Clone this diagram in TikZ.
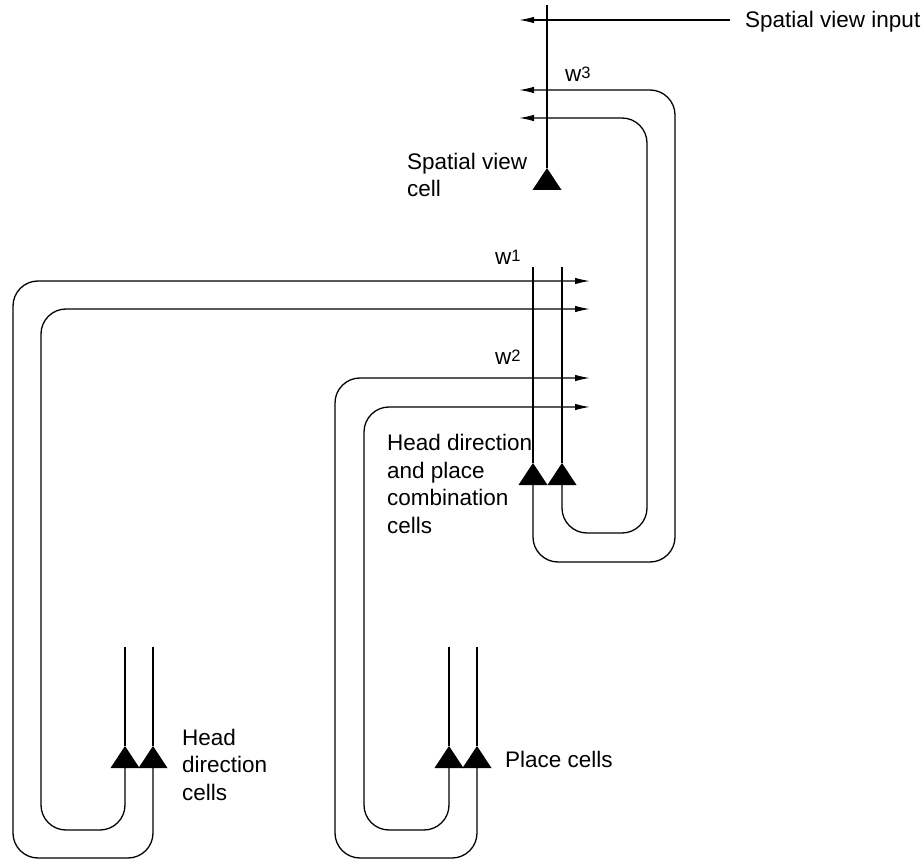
\documentclass[tikz,border=0pt]{standalone}
\usepackage{fontspec}
\setmainfont{Liberation Sans}
\usetikzlibrary{arrows.meta}

\tikzset{
  dendrite/.style={line width=2.6pt},
  axon/.style={line width=1.3pt, rounded corners=25pt},
  synapse/.style={axon, -{Latex[length=15pt,width=6.5pt]}},
  txt/.style={inner sep=0pt, align=left, anchor=base west}
}
\newcommand{\wsup}[1]{w\raisebox{3.5pt}{\fontsize{16.5}{16.5}\selectfont #1}}

\begin{document}
\begin{tikzpicture}[x=1pt, y=-1pt, font=\fontsize{22.5}{27.5}\selectfont]
  \useasboundingbox (0,0) rectangle (922,861);

  % cell bodies (apex of each triangle)
  \coordinate (svc)  at (547,168);
  \coordinate (cmb1) at (533,463);
  \coordinate (cmb2) at (562,463);
  \coordinate (hd1)  at (125,746);
  \coordinate (hd2)  at (153,746);
  \coordinate (pl1)  at (449,746);
  \coordinate (pl2)  at (477,746);

  % synapse ends
  \coordinate (svsrc) at (730,20);
  \coordinate (svin) at (519,20);
  \coordinate (w3o) at (519,90);
  \coordinate (w3i) at (519,118);
  \coordinate (w1o) at (590,281);
  \coordinate (w1i) at (590,309);
  \coordinate (w2o) at (590,378);
  \coordinate (w2i) at (590,407);

  % dendrites and somata
  \foreach \c/\t in {svc/5, cmb1/267, cmb2/267, hd1/647, hd2/647, pl1/647, pl2/647} {
    \draw[dendrite] (\c) -- (\c |- 0,\t);
    \fill (\c) -- ++(-14.5,22) -- ++(29,0) -- cycle;
  }

  % axons
  \draw[synapse] (svsrc) -- (svin);
  \draw[synapse] (cmb1) ++(0,22) |- (675,562) |- (w3o);
  \draw[synapse] (cmb2) ++(0,22) |- (647,533) |- (w3i);
  \draw[synapse] (hd2) ++(0,22) |- (13,858) |- (w1o);
  \draw[synapse] (hd1) ++(0,22) |- (41,830) |- (w1i);
  \draw[synapse] (pl2) ++(0,22) |- (335,858) |- (w2o);
  \draw[synapse] (pl1) ++(0,22) |- (364,830) |- (w2i);

  % labels (base = last line)
  \node[txt] (svinput) at (745,28) {Spatial view input};
  \node[txt] (svcell) at (407,197) {Spatial view\\cell};
  \node[txt] (w3) at (565,82) {\wsup{3}};
  \node[txt] (w1) at (495,265) {\wsup{1}};
  \node[txt] (w2) at (495,365) {\wsup{2}};
  \node[txt] (cmbtxt) at (387,533) {Head direction\\and place\\combination\\cells};
  \node[txt] (hdtxt) at (182,800) {Head\\direction\\cells};
  \node[txt] (pltxt) at (505,767) {Place cells};
\end{tikzpicture}
\end{document}
